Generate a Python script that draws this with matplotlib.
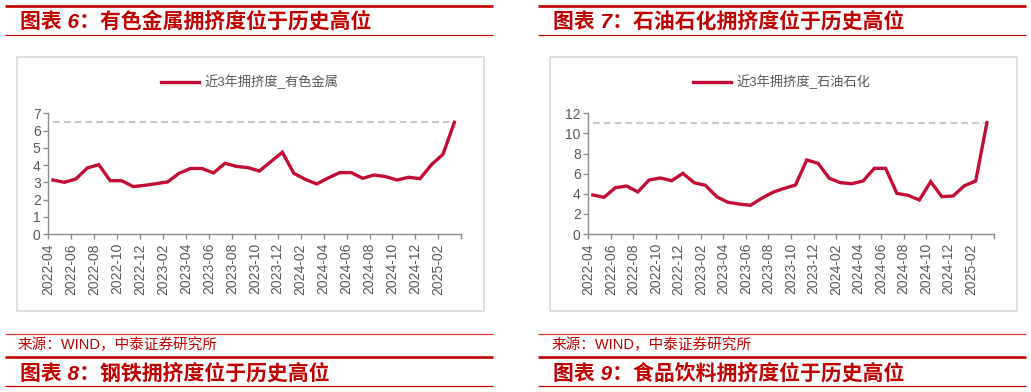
import numpy as np
import matplotlib
matplotlib.use('Agg')
import matplotlib.pyplot as plt
from matplotlib.lines import Line2D
from matplotlib.patches import Rectangle

plt.rcParams['font.family'] = ['Liberation Sans', 'Noto Sans CJK SC', 'DejaVu Sans']

# data
months = ['2022-04', '2022-06', '2022-08', '2022-10', '2022-12', '2023-02', '2023-04',
          '2023-06', '2023-08', '2023-10', '2023-12', '2024-02', '2024-04', '2024-06',
          '2024-08', '2024-10', '2024-12', '2025-02']

metals = [3.13, 3.0, 3.19, 3.83, 4.02, 3.09, 3.09, 2.75, 2.82, 2.92, 3.02, 3.52,
          3.8, 3.8, 3.54, 4.1, 3.92, 3.85, 3.65, 4.2, 4.74, 3.52, 3.17, 2.9,
          3.25, 3.56, 3.56, 3.23, 3.42, 3.33, 3.13, 3.29, 3.21, 4.02, 4.62, 6.48]

petro = [3.88, 3.65, 4.6, 4.77, 4.18, 5.37, 5.57, 5.3, 6.03, 5.1, 4.84, 3.71,
         3.15, 2.98, 2.85, 3.55, 4.15, 4.54, 4.87, 7.36, 7.03, 5.54, 5.1, 5.0,
         5.27, 6.53, 6.53, 4.04, 3.84, 3.38, 5.2, 3.71, 3.78, 4.8, 5.27, 11.07]

W, H = 1031, 392
RED = '#C00000'
LINE_RED = '#C30D35'
GRAY_TXT = '#595959'
AX_GRAY = '#8C8C8C'


def fx(x):
    return x / W


def fy(y):
    return 1 - y / H


fig = plt.figure(figsize=(W / 100, H / 100), dpi=100)


def hline(x0, x1, y, lw, color=RED):
    fig.add_artist(Line2D([fx(x0), fx(x1)], [fy(y), fy(y)], transform=fig.transFigure,
                          color=color, lw=lw, solid_capstyle='butt'))


def panel(xl, xr, box_l, box_r, ax_l, ax_r, title_top, title_bot, label, vals, ymax, ystep, leg_cx):
    # header / footer rules
    hline(xl, xr, 6.3, 1.9)
    hline(xl, xr, 35, 0.9)
    hline(xl, xr, 334, 0.9, '#D23A3A')
    hline(xl, xr, 356.7, 1.9)
    hline(xl, xr, 385.7, 0.9)

    fig.text(fx(xl + 15), fy(21), title_top, color=RED, fontsize=15, fontweight='bold',
             style='italic', va='center', ha='left')
    fig.text(fx(xl + 15), fy(373), title_bot, color=RED, fontsize=15, fontweight='bold',
             style='italic', va='center', ha='left')
    fig.text(fx(xl + 13), fy(345), '来源：WIND，中泰证券研究所', color=RED, fontsize=10.5,
             va='center', ha='left')

    # chart frame
    fig.add_artist(Rectangle((fx(box_l), fy(311)), fx(box_r - box_l), (311 - 57) / H,
                             transform=fig.transFigure, fill=False, edgecolor='#D9D9D9', lw=1.2))

    ax = fig.add_axes([fx(ax_l), fy(234), fx(ax_r - ax_l), (234 - 113.3) / H])
    x = np.arange(len(vals)) + 0.4
    ax.plot([x[0], x[-1]], [vals[-1], vals[-1]], color='#C8C8C8', lw=1.5, dashes=(3.2, 2))
    ln, = ax.plot(x, vals, color=LINE_RED, lw=2.4, label=label, solid_joinstyle='miter')
    ax.set_xlim(0, 36)
    ax.set_ylim(0, ymax)
    ax.set_yticks(np.arange(0, ymax + 0.01, ystep))
    ax.set_xticks(np.arange(0, 37, 2))
    ax.set_xticklabels(months + [''], rotation=90)
    for s in ['top', 'right']:
        ax.spines[s].set_visible(False)
    for s in ['left', 'bottom']:
        ax.spines[s].set_color(AX_GRAY)
        ax.spines[s].set_linewidth(1.0)
    ax.tick_params(axis='both', colors=AX_GRAY, labelcolor=GRAY_TXT, labelsize=10,
                   length=3.5, width=1.0, direction='out')
    ax.tick_params(axis='y', pad=2)
    ax.tick_params(axis='x', pad=3)
    ax.patch.set_alpha(0)

    fig.legend(handles=[ln], labels=[label], loc='center', bbox_to_anchor=(fx(leg_cx), fy(82)),
               frameon=False, fontsize=9.5, labelcolor=GRAY_TXT, handlelength=2.9,
               handletextpad=0.4, borderpad=0, prop={'family': ['Liberation Sans', 'Noto Sans CJK SC'], 'size': 9.5})
    return ax


panel(5, 492.7, 17, 484, 48.3, 461.3, '图表 6：有色金属拥挤度位于历史高位', '图表 8：钢铁拥挤度位于历史高位',
      '近3年拥挤度_有色金属', metals, 7, 1, 249.5)
panel(538.3, 1026, 549.5, 1017, 588.3, 993.7, '图表 7：石油石化拥挤度位于历史高位', '图表 9：食品饮料拥挤度位于历史高位',
      '近3年拥挤度_石油石化', petro, 12, 2, 782)

fig.savefig('out.png', dpi=100)
